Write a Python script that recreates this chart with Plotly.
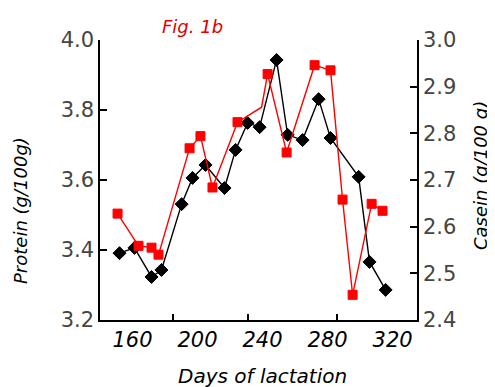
import plotly.graph_objects as go

# Black series (left axis, protein g/100g)
protein_days = [152.0, 161.2, 171.7, 177.8, 190.2, 196.9, 204.9, 216.6, 223.4, 230.8,
                238.2, 248.6, 255.4, 264.6, 274.5, 281.8, 299.1, 305.8, 315.7]
protein = [3.391, 3.406, 3.323, 3.343, 3.531, 3.606, 3.643, 3.577, 3.686, 3.763,
           3.751, 3.943, 3.729, 3.714, 3.831, 3.720, 3.609, 3.366, 3.286]

# Red series (right axis, casein g/100 g)
casein_days = [150.8, 163.7, 171.7, 176.0, 195.1, 201.8, 209.2, 224.6, 239.4, 243.1,
               254.8, 272.0, 281.8, 289.2, 295.4, 307.1, 313.8]
casein = [2.628, 2.559, 2.555, 2.540, 2.768, 2.794, 2.684, 2.824, 2.856, 2.927,
          2.759, 2.946, 2.935, 2.658, 2.454, 2.649, 2.634]

x_ticks = [160, 200, 240, 280, 320]
x_tick_marks = [185, 231, 286]
left_ticks = [3.2, 3.4, 3.6, 3.8, 4.0]
right_ticks = [2.4, 2.5, 2.6, 2.7, 2.8, 2.9, 3.0]

FONT = "DejaVu Sans"
tick_font = dict(family=FONT, size=21, color="#444")
OFF = 8  # page body margin
W, H = 495 - OFF, 387 - OFF
ML, MT = 100 - OFF, 40 - OFF
PW, PH = 317, 280
MR, MB = W - ML - PW, H - MT - PH


def px(xp):
    return (xp - OFF - ML) / PW


def py(yp):
    return (H - MB - (yp - OFF)) / PH


fig = go.Figure()
fig.add_trace(go.Scatter(
    x=casein_days, y=casein, yaxis="y2", mode="lines+markers",
    line=dict(color="#ff0000", width=1.4),
    marker=dict(symbol="square", size=[9] * 8 + [0] + [9] * 8, color="#ff0000",
                opacity=1, line=dict(color="#ff0000", width=1)),
    showlegend=False))
fig.add_trace(go.Scatter(
    x=protein_days, y=protein, mode="lines+markers",
    line=dict(color="black", width=1.4),
    marker=dict(symbol="diamond", size=10, color="black", opacity=1,
                line=dict(color="black", width=1)),
    showlegend=False))
# invisible trace to carry the tick-mark-only axis
fig.add_trace(go.Scatter(x=[x_ticks[0]], y=[left_ticks[0]], xaxis="x2",
                         mode="markers", marker=dict(opacity=0), showlegend=False,
                         hoverinfo="skip"))

fig.update_layout(
    width=W, height=H,
    margin=dict(l=ML, r=MR, t=MT, b=MB),
    paper_bgcolor="white", plot_bgcolor="white",
    xaxis=dict(range=[140, 335], tickvals=x_ticks, ticktext=[str(v) for v in x_ticks],
               ticks="", showline=True, linecolor="black", linewidth=1.5,
               showgrid=False, zeroline=False,
               tickfont=dict(family=FONT, size=21, color="black", style="italic")),
    xaxis2=dict(range=[140, 335], overlaying="x", tickvals=x_tick_marks, ticks="inside",
                ticklen=6, tickwidth=1.5, tickcolor="black", showticklabels=False,
                showline=False, showgrid=False, zeroline=False),
    yaxis=dict(range=[3.2, 4.0], tickvals=left_ticks, tickformat=".1f",
               ticks="inside", ticklen=7, tickwidth=1.5, tickcolor="black",
               showline=True, linecolor="black", linewidth=1.5,
               showgrid=False, zeroline=False, tickfont=tick_font),
    yaxis2=dict(range=[2.4, 3.0], tickvals=right_ticks, tickformat=".1f",
                overlaying="y", side="right",
                ticks="inside", ticklen=7, tickwidth=1.5, tickcolor="black",
                showline=True, linecolor="black", linewidth=1.5,
                showgrid=False, zeroline=False, tickfont=tick_font),
    annotations=[
        dict(text="Fig. 1b", x=px(192), y=py(27), xref="paper", yref="paper",
             xanchor="center", yanchor="middle", showarrow=False,
             font=dict(family=FONT, size=18, color="#e00000", style="italic")),
        dict(text="Protein (g/100g)", x=px(20), y=py(211), xref="paper", yref="paper",
             xanchor="center", yanchor="middle", textangle=-90, showarrow=False,
             font=dict(family=FONT, size=18, color="black", style="italic")),
        dict(text="Casein (g/100 g)", x=px(480), y=py(176), xref="paper", yref="paper",
             xanchor="center", yanchor="middle", textangle=-90, showarrow=False,
             font=dict(family=FONT, size=18, color="black", style="italic")),
        dict(text="Days of lactation", x=px(262), y=py(376), xref="paper", yref="paper",
             xanchor="center", yanchor="middle", showarrow=False,
             font=dict(family=FONT, size=20, color="black", style="italic")),
    ],
)

fig.write_html("out.html")
